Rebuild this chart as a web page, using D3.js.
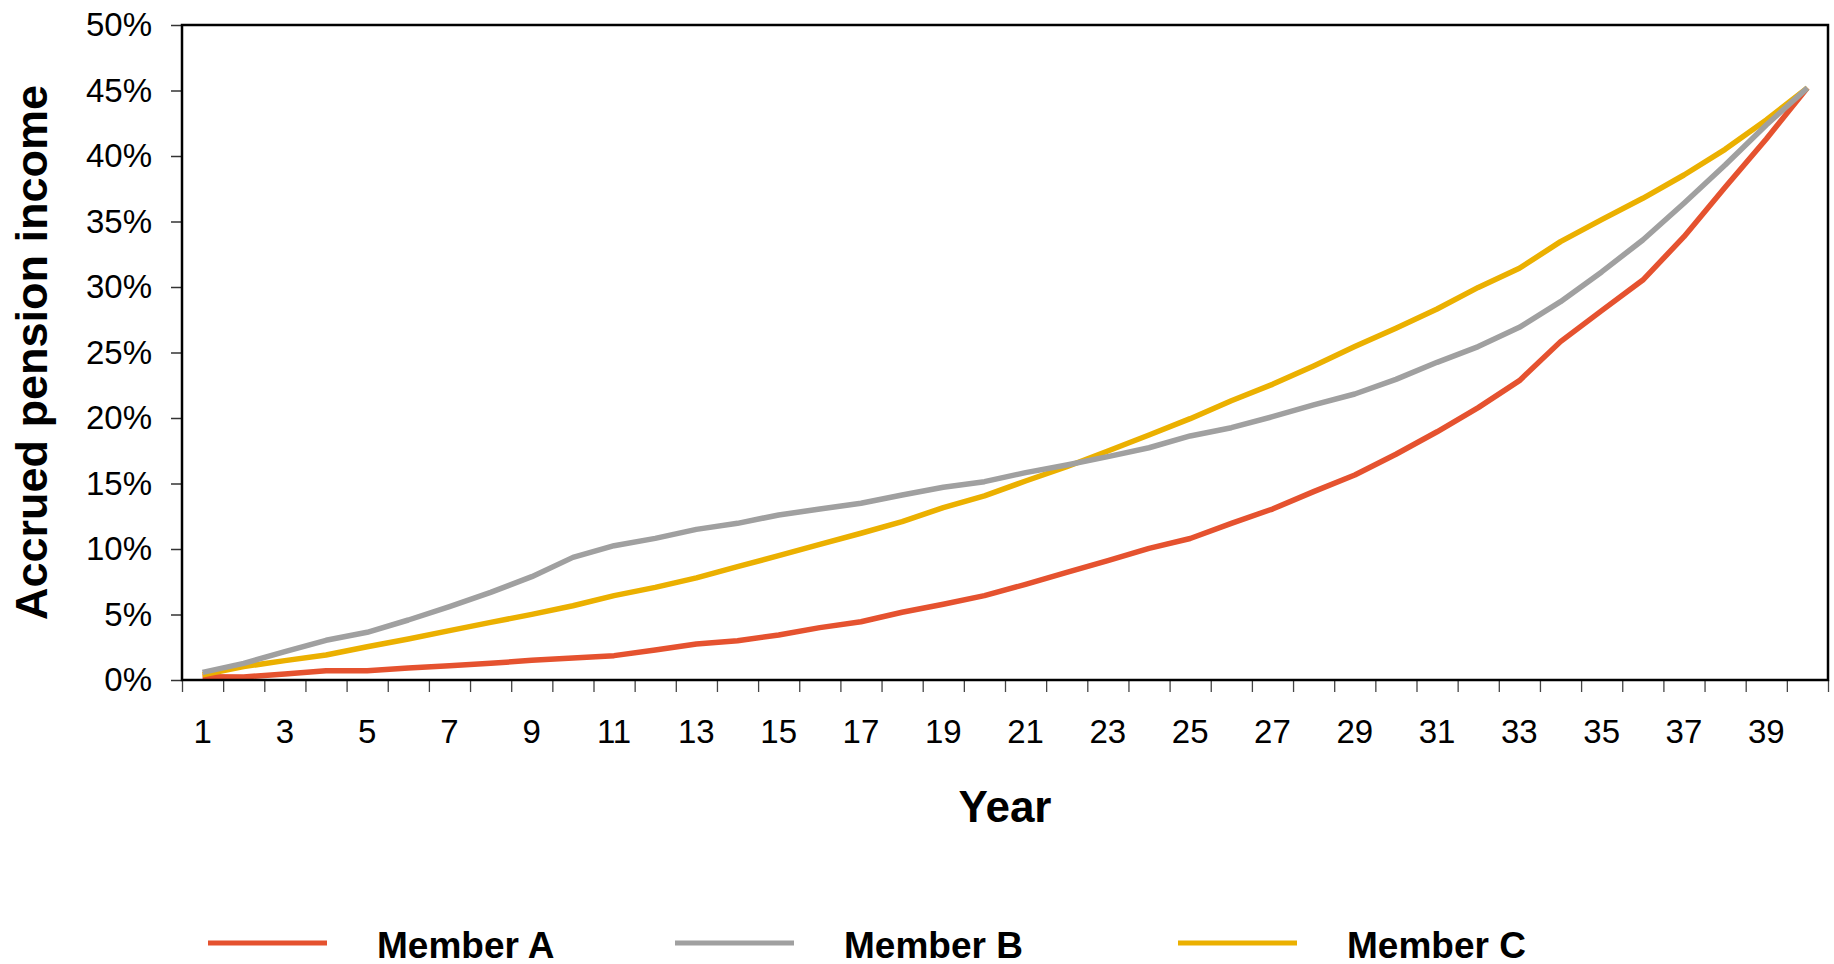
<!DOCTYPE html>
<html>
<head>
<meta charset="utf-8">
<script src="https://cdn.jsdelivr.net/npm/d3@7"></script>
<style>
  html, body { margin: 0; padding: 0; background: #fff; }
  svg { display: block; font-family: Arial, "Liberation Sans", Helvetica, sans-serif; }
</style>
</head>
<body>
<svg id="chart" width="1834" height="964"></svg>
<script>
// Accrued pension income (% of salary) by year of membership
const years = [1,2,3,4,5,6,7,8,9,10,11,12,13,14,15,16,17,18,19,20,
               21,22,23,24,25,26,27,28,29,30,31,32,33,34,35,36,37,38,39,40];

const memberA = [0.25,0.23,0.46,0.71,0.71,0.92,1.09,1.27,1.50,1.68,
                 1.86,2.29,2.75,3.00,3.44,4.00,4.45,5.17,5.78,6.44,
                 7.30,8.22,9.11,10.05,10.80,11.96,13.05,14.38,15.65,17.23,
                 18.95,20.79,22.85,25.83,28.20,30.53,33.84,37.61,41.30,45.20];

const memberB = [0.58,1.27,2.16,3.03,3.64,4.58,5.60,6.69,7.89,9.36,
                 10.25,10.81,11.50,11.96,12.60,13.05,13.49,14.12,14.71,15.14,
                 15.83,16.41,17.05,17.73,18.63,19.26,20.10,21.00,21.83,22.95,
                 24.25,25.45,26.92,28.88,31.15,33.59,36.39,39.31,42.37,45.20];

const memberC = [0.40,1.02,1.48,1.91,2.54,3.13,3.77,4.40,5.01,5.67,
                 6.44,7.07,7.80,8.65,9.49,10.36,11.20,12.09,13.16,14.05,
                 15.19,16.28,17.48,18.70,19.95,21.32,22.57,23.97,25.45,26.85,
                 28.32,29.97,31.43,33.46,35.14,36.77,38.55,40.51,42.75,45.20];

const yTicks = [0,5,10,15,20,25,30,35,40,45,50];
const xLabelYears = [1,3,5,7,9,11,13,15,17,19,21,23,25,27,29,31,33,35,37,39];

const seriesNames = ["Member A", "Member B", "Member C"];
const seriesColors = ["#e5522f", "#a0a0a0", "#ebb000"];

const svg = d3.select("#chart");
const plot = { left: 182, right: 1828, top: 25, bottom: 680 };

const x = d3.scaleBand().domain(years).range([plot.left, plot.right]).padding(0);
const xEdge = d3.scaleLinear().domain([0.5, years.length + 0.5]).range([plot.left, plot.right]);
const y = d3.scaleLinear().domain([0, 50]).range([plot.bottom, plot.top]);

// Y axis with percent labels
const yAxis = svg.append("g")
  .attr("transform", `translate(${plot.left},0)`)
  .call(d3.axisLeft(y).tickValues(yTicks).tickFormat(d => d + "%").tickSize(11).tickPadding(19));
yAxis.select(".domain").remove();
yAxis.selectAll("line").attr("stroke", "#333").attr("stroke-width", 1.5);
yAxis.selectAll("text").attr("font-size", 33).attr("fill", "#000")
  .attr("font-family", "Arial, 'Liberation Sans', sans-serif");

// X axis: tick marks at category boundaries
const xTickAxis = svg.append("g")
  .attr("transform", `translate(0,${plot.bottom})`)
  .call(d3.axisBottom(xEdge).tickValues(d3.range(0.5, years.length + 1, 1)).tickFormat("").tickSize(12));
xTickAxis.select(".domain").remove();
xTickAxis.selectAll("line").attr("stroke", "#444").attr("stroke-width", 1.3);

// X axis: labels at category centres
const xLabelAxis = svg.append("g")
  .attr("transform", `translate(0,${plot.bottom})`)
  .call(d3.axisBottom(x).tickValues(xLabelYears).tickSize(0).tickPadding(40));
xLabelAxis.select(".domain").remove();
xLabelAxis.selectAll("text").attr("font-size", 33).attr("fill", "#000")
  .attr("font-family", "Arial, 'Liberation Sans', sans-serif");

// Series lines
const line = d3.line()
  .x((d, i) => x(years[i]) + x.bandwidth() / 2)
  .y(d => y(d));

const seriesData = [memberA, memberB, memberC];
[0, 2, 1].forEach(k => {
  svg.append("path")
    .datum(seriesData[k])
    .attr("fill", "none")
    .attr("stroke", seriesColors[k])
    .attr("stroke-width", 5.5)
    .attr("stroke-linejoin", "round")
    .attr("d", line);
});

// Plot frame
svg.append("rect")
  .attr("x", plot.left).attr("y", plot.top)
  .attr("width", plot.right - plot.left).attr("height", plot.bottom - plot.top)
  .attr("fill", "none").attr("stroke", "#000").attr("stroke-width", 2.5);

// Axis titles
svg.append("text")
  .attr("transform", `translate(47,${(plot.top + plot.bottom) / 2}) rotate(-90)`)
  .attr("text-anchor", "middle")
  .attr("font-size", 45).attr("font-weight", "bold")
  .text("Accrued pension income");

svg.append("text")
  .attr("x", (plot.left + plot.right) / 2).attr("y", 822)
  .attr("text-anchor", "middle")
  .attr("font-size", 44).attr("font-weight", "bold")
  .text("Year");

// Legend
const legendX = [208, 675, 1178];
const legend = svg.append("g");
seriesNames.forEach((name, k) => {
  const g = legend.append("g").attr("transform", `translate(${legendX[k]},943)`);
  g.append("line")
    .attr("x1", 0).attr("x2", 119).attr("y1", 0).attr("y2", 0)
    .attr("stroke", seriesColors[k]).attr("stroke-width", 5);
  g.append("text")
    .attr("x", 169).attr("y", 14.5)
    .attr("font-size", 37).attr("font-weight", "bold")
    .text(name);
});
</script>
</body>
</html>
